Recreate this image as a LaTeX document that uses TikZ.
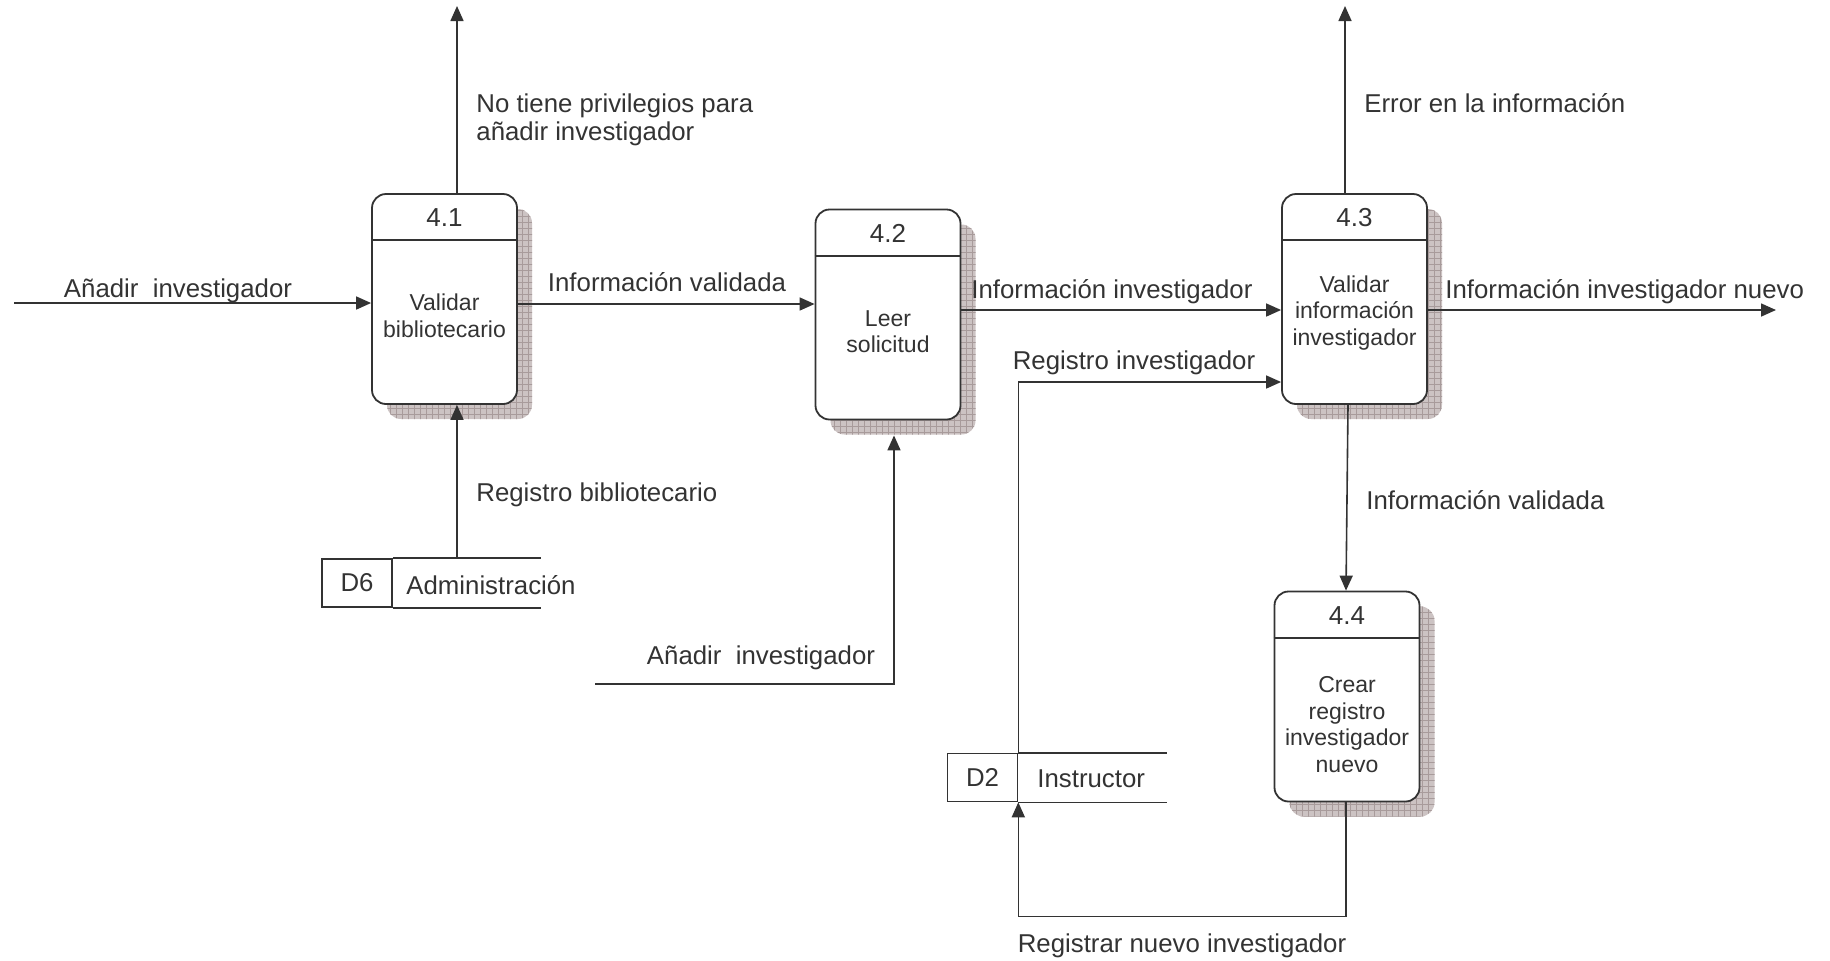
\documentclass[tikz,border=0pt]{standalone}
\usepackage{fontspec}
\setmainfont{Liberation Sans}
\usetikzlibrary{arrows.meta,patterns}
\definecolor{tinta}{HTML}{333333}
\definecolor{sombra}{HTML}{CCC3C3}
\definecolor{rejilla}{HTML}{A89B9B}
\tikzset{
  proc/.style={draw=tinta, line width=0.9pt, fill=white, rounded corners=7pt, minimum width=72.5pt, minimum height=105pt, inner sep=0pt},
  sombraproc/.style={fill=sombra, rounded corners=7pt, postaction={pattern=grid, pattern color=rejilla}},
  linea/.style={draw=tinta, line width=0.8pt},
  flujo/.style={linea, -{Triangle[length=7.5pt,width=6.5pt]}},
  etiq/.style={text=tinta, font=\fontsize{12.9}{14}\selectfont, inner sep=0pt},
  ptxt/.style={text=tinta, font=\fontsize{11.5}{13.3}\selectfont, align=center, inner sep=0pt},
  pnum/.style={text=tinta, font=\fontsize{13}{14}\selectfont, inner sep=0pt},
  almacen/.style={linea, minimum width=35pt, minimum height=24pt, inner sep=0pt, text=tinta, font=\fontsize{12.9}{14}\selectfont},
}
% process box: name (x,y:text offset) number text
\def\proceso#1(#2,#3:#4)#5#6{
  \path[sombraproc] (#2-57.5,#3-90) rectangle (#2+87.5,#3+120);
  \node[proc] (#1) at (#2,#3) {};
  \draw[linea, line width=0.9pt] ([yshift=-23.5pt]#1.north west) -- ([yshift=-23.5pt]#1.north east);
  \node[pnum] (#1n) at (#2,#3-81) {#5};
  \node[ptxt] (#1t) at (#2,#3+#4) {#6};
}

\begin{document}
\begin{tikzpicture}[x=0.5pt, y=-0.5pt]
			%%%%% START %%%%%
			\useasboundingbox (0,0) rectangle (1830,960);
			
			\proceso{p41}(444.5,299:17){4.1}{Validar\\bibliotecario}
			\proceso{p42}(888,314.5:17){4.2}{Leer\\solicitud}
			\proceso{p43}(1354.5,299:14){4.3}{Validar\\información\\investigador}
			\proceso{p44}(1347,696.5:28){4.4}{Crear\\registro\\investigador\\nuevo}
			
			\node[almacen] (d6) at (357,583) {D6};
			\draw[linea] (d6.north east) -- ++(74pt,0);
			\draw[linea] (d6.south east) -- ++(74pt,0);
			\node[etiq, anchor=west] (d6t) at (406,585) {Administración};
			
			\node[almacen] (d2) at (982.5,777.5) {D2};
			\draw[linea] (d2.north east) -- ++(74.5pt,0);
			\draw[linea] (d2.south east) -- ++(74.5pt,0);
			\node[etiq, anchor=west] (d2t) at (1037,779) {Instructor};
			
			\coordinate (e1) at (14,303);
			\coordinate (s1) at (457,6);
			\coordinate (e2) at (595,684);
			\coordinate (s3) at (1345,6);
			\coordinate (s4) at (1776,310);
			
			\draw[flujo] (e1) -- (e1 -| p41.west);
			\draw[flujo] (s1 |- p41.north) -- (s1);
			\draw[flujo] ([yshift=-2.5pt]p41.east) -- ([yshift=-2.5pt]p41.east -| p42.west);
			\draw[flujo] (s1 |- d6.north) -- (s1 |- p41.south);
			\draw[flujo] (e2) -| ([xshift=3pt,yshift=-7.5pt]p42.south);
			\draw[flujo] ([yshift=2.25pt]p42.east) -- ([yshift=2.25pt]p42.east -| p43.west);
			\draw[flujo] (d2.north east) |- ([yshift=-41.5pt]p43.west);
			\draw[flujo] (s3 |- p43.north) -- (s3);
			\draw[flujo] (s4 -| p43.east) -- (s4);
			\draw[flujo] ([xshift=-3.25pt]p43.south) -- ([xshift=-0.5pt]p44.north);
			\draw[flujo] ([xshift=-0.5pt]p44.south) -- ++(0,114) -| (d2.south east);
			
			\node[etiq] (l1) at (178,291) {Añadir~ investigador};
			\node[etiq, anchor=west, align=left] (l2) at (476,120) {No tiene privilegios para\\añadir investigador};
			\node[etiq] (l3) at (667,282) {Información validada};
			\node[etiq, anchor=west] (l4) at (476,495) {Registro bibliotecario};
			\node[etiq] (l5) at (761,658) {Añadir~ investigador};
			\node[etiq, anchor=west] (l6) at (971,292) {Información investigador};
			\node[etiq] (l7) at (1134,363) {Registro investigador};
			\node[etiq] (l8) at (1182,946) {Registrar nuevo investigador};
			\node[etiq, anchor=west] (l9) at (1364,103) {Error en la información};
			\node[etiq, anchor=west] (l10) at (1445,292) {Información investigador nuevo};
			\node[etiq, anchor=west] (l11) at (1366,500) {Información validada};
			
			%%%%% END %%%%%
\end{tikzpicture}
\end{document}
